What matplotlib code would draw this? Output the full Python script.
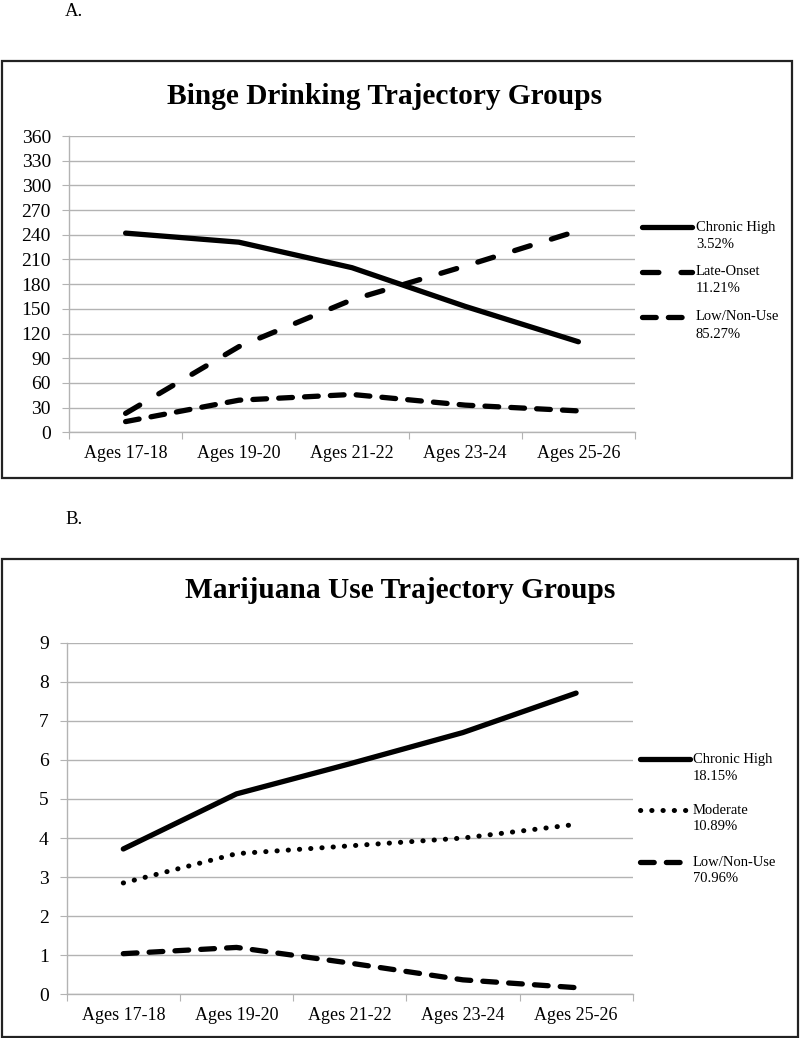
import matplotlib
matplotlib.use('Agg')
import matplotlib.pyplot as plt
from matplotlib.patches import Rectangle
from matplotlib.lines import Line2D

plt.rcParams['font.family'] = ['Liberation Serif', 'DejaVu Serif']

W, H = 800, 1038

ages = ['Ages 17-18', 'Ages 19-20', 'Ages 21-22', 'Ages 23-24', 'Ages 25-26']

# panel A - binge drinking
binge_chronic = [242, 231, 200, 153, 110]
binge_late = [23, 104, 161, 202, 245]
binge_low = [13, 39, 46, 33, 26]
binge_labels = ['Chronic High', 'Late-Onset', 'Low/Non-Use']
binge_pct = ['3.52%', '11.21%', '85.27%']

# panel B - marijuana
mj_chronic = [3.72, 5.13, 5.9, 6.7, 7.71]
mj_moderate = [2.85, 3.6, 3.8, 4.0, 4.35]
mj_low = [1.04, 1.2, 0.8, 0.37, 0.17]
mj_labels = ['Chronic High', 'Moderate', 'Low/Non-Use']
mj_pct = ['18.15%', '10.89%', '70.96%']

LW = 3.8
solid = dict(color='black', lw=LW, solid_capstyle='round')
late = dict(color='black', lw=LW, dashes=(3.1, 4.2), dash_capstyle='round')
lowd = dict(color='black', lw=LW, dashes=(2.6, 2.3), dash_capstyle='round')
dots = dict(color='black', lw=3.6, dashes=(0.05, 2.2), dash_capstyle='round')

GRID = '#b3b3b3'


def fx(x):
    return x / W


def fy(y):
    return 1 - y / H


fig = plt.figure(figsize=(W / 100, H / 100), dpi=100)


def make_axes(left, right, top, bottom, ymax, ystep):
    ax = fig.add_axes([fx(left), fy(bottom), (right - left) / W, (bottom - top) / H])
    ax.set_xlim(0, 5)
    ax.set_ylim(0, ymax)
    ticks = [i * ystep for i in range(int(round(ymax / ystep)) + 1)]
    ax.set_yticks(ticks)
    ax.set_yticklabels([str(t) for t in ticks])
    ax.yaxis.grid(True, color=GRID, lw=1.0)
    ax.set_axisbelow(True)
    ax.set_xticks(range(6))
    ax.set_xticklabels([])
    ax.set_xticks([i + 0.5 for i in range(5)], minor=True)
    ax.set_xticklabels(ages, minor=True)
    ax.tick_params(axis='x', which='major', length=5, color=GRID, direction='out')
    ax.tick_params(axis='x', which='minor', length=0, pad=9, labelsize=13)
    ax.tick_params(axis='y', length=5, color=GRID, pad=8, labelsize=14)
    for s in ['top', 'right']:
        ax.spines[s].set_visible(False)
    for s in ['left', 'bottom']:
        ax.spines[s].set_color(GRID)
        ax.spines[s].set_linewidth(1.0)
    ax.set_facecolor('none')
    return ax


def legend(entries, x0, x1, xt, ys):
    for (style, name, pct), y in zip(entries, ys):
        ln = Line2D([fx(x0), fx(x1)], [fy(y), fy(y)], transform=fig.transFigure, **style)
        fig.add_artist(ln)
        fig.text(fx(xt), fy(y), name, fontsize=10.5, va='center', ha='left')
        fig.text(fx(xt), fy(y + 17), pct, fontsize=10.5, va='center', ha='left')


xs = [i + 0.5 for i in range(5)]

# ---- panel A
fig.text(fx(65), fy(11), 'A.', fontsize=13.5, va='center', ha='left')
fig.add_artist(Rectangle((fx(2), fy(478)), (791.5 - 2) / W, (478 - 61) / H,
                         transform=fig.transFigure, fill=False, ec='#222222', lw=1.6))
fig.text(fx(385), fy(97), 'Binge Drinking Trajectory Groups', fontsize=21.2,
         fontweight='bold', ha='center', va='center')
axA = make_axes(69, 635, 136, 432.3, 360, 30)
axA.plot(xs, binge_chronic, **solid)
axA.plot(xs, binge_late, **late)
axA.plot(xs, binge_low, **lowd)
legend(list(zip([solid, late, lowd], binge_labels, binge_pct)),
       642, 692, 696, [227, 272, 317])

# ---- panel B
fig.text(fx(65), fy(519), 'B.', fontsize=13.5, va='center', ha='left')
fig.add_artist(Rectangle((fx(2), fy(1036.5)), (798 - 2) / W, (1036.5 - 559) / H,
                         transform=fig.transFigure, fill=False, ec='#222222', lw=1.6))
fig.text(fx(400), fy(591), 'Marijuana Use Trajectory Groups', fontsize=21.2,
         fontweight='bold', ha='center', va='center')
axB = make_axes(66.7, 632.7, 642.7, 994.3, 9, 1)
axB.plot(xs, mj_chronic, **solid)
axB.plot(xs, mj_moderate, **dots)
axB.plot(xs, mj_low, **lowd)
legend(list(zip([solid, dots, lowd], mj_labels, mj_pct)),
       640, 690, 693, [759, 810, 862])

fig.savefig('out.png', dpi=100)
